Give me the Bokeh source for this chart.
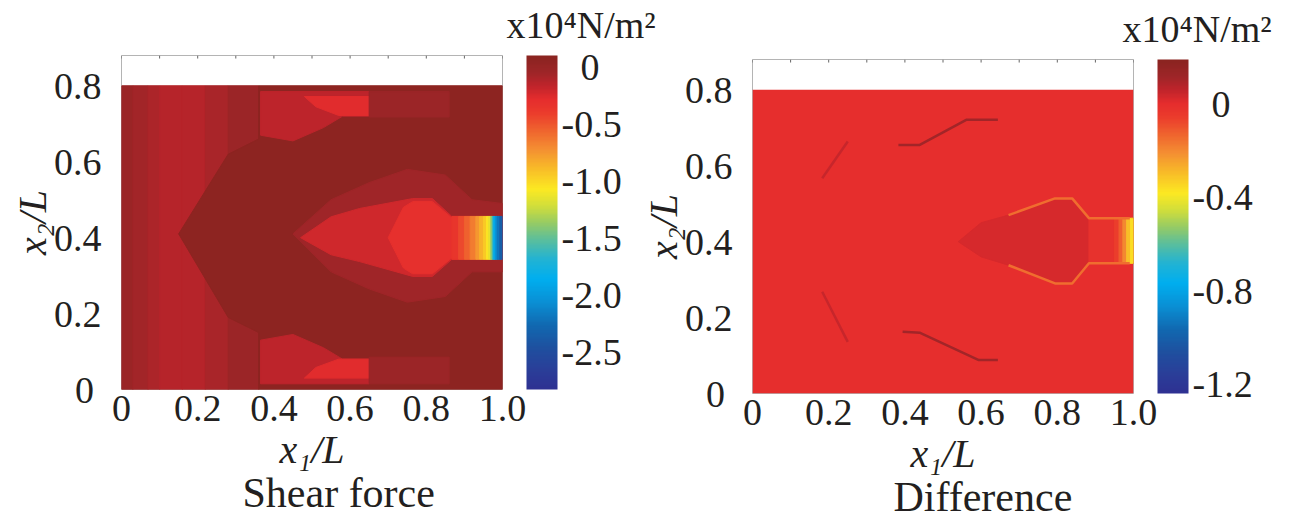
import numpy as np
from bokeh.plotting import figure
from bokeh.models import (LinearColorMapper, ColorBar, FixedTicker, CustomJSTickFormatter,
                          Title, Range1d, ColumnDataSource)
from bokeh.layouts import row
from bokeh.embed import file_html
from bokeh.resources import INLINE

FONT = "Liberation Serif"
INK = "#231f20"

# ---------------- data ----------------
x_ticks = [0, 0.2, 0.4, 0.6, 0.8, 1.0]
y_ticks = [0, 0.2, 0.4, 0.6, 0.8]
top_ticks = [0, 0.1, 0.2, 0.3, 0.4, 0.5, 0.6, 0.7, 0.8, 0.9, 1.0]
shear_cbar_ticks = [-2.5, -2.0, -1.5, -1.0, -0.5, 0]
diff_cbar_ticks = [-1.2, -0.8, -0.4, 0]
shear_low, shear_high = -2.83, 0.10
diff_low, diff_high = -1.24, 0.19
field_top = 0.8
unit_text = "x10\u2074N/m\u00b2"

# Shear force panel
shear_bg = 0.07
shear_strip_x = [0.0, 0.03, 0.07, 0.10, 0.16, 0.22, 0.28, 0.36]
shear_strip_v = [-0.02, -0.07, -0.1, -0.13, -0.13, -0.09, -0.03]
shear_region_v = [0.07, -0.16, -0.16, -0.27, -0.27, -0.03, -0.03, -0.05, -0.22, -0.31]
shear_region_x = [
    [0.36, 0.36, 0.28, 0.15, 0.28, 0.36, 0.36, 1.0, 1.0],
    [0.365, 0.365, 0.45, 0.53, 0.58, 0.65, 0.65],
    [0.365, 0.365, 0.45, 0.53, 0.58, 0.65, 0.65],
    [0.48, 0.65, 0.65, 0.57, 0.51],
    [0.48, 0.65, 0.65, 0.57, 0.51],
    [0.65, 0.86, 0.86, 0.65],
    [0.65, 0.86, 0.86, 0.65],
    [0.45, 0.55, 0.65, 0.75, 0.85, 0.92, 1.0, 1.0, 0.92, 0.85, 0.75, 0.65, 0.55],
    [0.47, 0.55, 0.625, 0.764, 0.816, 0.867, 1.0, 1.0, 0.867, 0.816, 0.764, 0.625, 0.55],
    [0.70, 0.74, 0.764, 0.816, 0.867, 0.867, 0.816, 0.764, 0.74],
]
shear_region_y = [
    [0.8, 0.66, 0.62, 0.41, 0.19, 0.15, 0.0, 0.0, 0.8],
    [0.785, 0.67, 0.655, 0.69, 0.72, 0.72, 0.785],
    [0.015, 0.13, 0.145, 0.11, 0.08, 0.08, 0.015],
    [0.772, 0.772, 0.722, 0.722, 0.745],
    [0.03, 0.03, 0.08, 0.08, 0.058],
    [0.785, 0.785, 0.718, 0.718],
    [0.015, 0.015, 0.085, 0.085],
    [0.41, 0.50, 0.545, 0.58, 0.565, 0.50, 0.49, 0.31, 0.31, 0.245, 0.23, 0.265, 0.31],
    [0.40, 0.455, 0.477, 0.503, 0.503, 0.456, 0.456, 0.343, 0.343, 0.298, 0.298, 0.337, 0.355],
    [0.40, 0.48, 0.495, 0.495, 0.452, 0.347, 0.305, 0.305, 0.32],
]
shear_band_x = [0.867, 0.885, 0.90, 0.915, 0.93, 0.94, 0.95, 0.958, 0.964, 0.969, 0.973,
                0.977, 0.981, 0.986, 0.993, 1.0]
shear_band_v = [-0.35, -0.45, -0.55, -0.65, -0.75, -0.85, -0.95, -1.05, -1.15, -1.35,
                -1.6, -1.85, -2.05, -2.2, -2.35]
shear_band_y = [0.343, 0.456]

# Difference panel
diff_bg = 0.0
diff_region_v = [0.025]
diff_region_x = [[0.54, 0.6, 0.672, 0.794, 0.839, 0.883, 1.0, 1.0, 0.883, 0.839, 0.794, 0.672, 0.6]]
diff_region_y = [[0.40, 0.45, 0.470, 0.514, 0.514, 0.462, 0.462, 0.343, 0.343, 0.290, 0.290, 0.338, 0.36]]
diff_band_x = [0.883, 0.95, 0.962, 0.972, 0.982, 0.992, 1.0]
diff_band_v = [-0.02, -0.06, -0.12, -0.2, -0.3, -0.36]
diff_band_y = [0.343, 0.462]
diff_line_v = [0.11, 0.11, 0.045, 0.045, -0.15, -0.15]
diff_line_x = [
    [0.383, 0.439, 0.561, 0.644],
    [0.394, 0.44, 0.594, 0.644],
    [0.183, 0.25],
    [0.183, 0.25],
    [0.672, 0.794, 0.839, 0.883, 0.99],
    [0.672, 0.794, 0.839, 0.883, 0.99],
]
diff_line_y = [
    [0.655, 0.655, 0.721, 0.721],
    [0.163, 0.16, 0.088, 0.088],
    [0.567, 0.664],
    [0.268, 0.136],
    [0.470, 0.514, 0.514, 0.462, 0.462],
    [0.338, 0.290, 0.290, 0.343, 0.343],
]

# ---------------- colour map (jet-like, as in the colour bars) ----------------
anchors_t = [0.00, 0.05, 0.09, 0.13, 0.17, 0.22, 0.28, 0.34, 0.40, 0.45, 0.50, 0.55,
             0.61, 0.67, 0.74, 0.81, 0.88, 0.94, 1.00]
anchors_c = ["#8a2420", "#9e2528", "#c0242b", "#e52d2d", "#eb3b2c", "#ef612e", "#f48f32",
             "#f8bd28", "#fce922", "#d2de3a", "#98cc63", "#5dbf9a", "#22b3d3", "#00aeef",
             "#0a8fd4", "#1168b0", "#1f4f9f", "#2a3f99", "#2e3192"]


def build_palette(n=256):
    rgb = np.array([[int(c[i:i + 2], 16) for i in (1, 3, 5)] for c in anchors_c], float)
    s = np.linspace(1.0, 0.0, n)  # index 0 = low end = bottom of bar
    out = []
    for si in s:
        r, g, b = (np.interp(si, anchors_t, rgb[:, k]) for k in range(3))
        out.append("#%02x%02x%02x" % (int(round(r)), int(round(g)), int(round(b))))
    return out


PALETTE = build_palette()


def fmt(zero):
    return CustomJSTickFormatter(code="return Math.abs(tick) < 1e-9 ? '%s' : tick.toFixed(1);" % zero)


def quad_source(edges, vals, bottom, top):
    return ColumnDataSource(dict(l=list(edges[:-1]), r=list(edges[1:]),
                                 b=[bottom] * len(vals), t=[top] * len(vals), v=list(vals)))


def make_panel(b_left, b_right, low, high, cbar_ticks, bg, strips, regions,
               band, lines, title, title_offset, unit_offset):
    mapper = LinearColorMapper(palette=PALETTE, low=low, high=high)
    p = figure(frame_width=381, frame_height=334, x_range=Range1d(0, 1), y_range=Range1d(0, 0.88),
               output_backend="svg", toolbar_location=None,
               min_border_left=b_left, min_border_right=b_right,
               min_border_top=0, min_border_bottom=0)
    p.border_fill_color = None
    p.background_fill_color = "white"
    p.outline_line_color = "#b4b4b4"
    p.grid.visible = False
    tr = {"field": "v", "transform": mapper}

    p.quad(left="l", right="r", bottom="b", top="t", source=quad_source([0, 1], [bg], 0, field_top),
           fill_color=tr, line_color=None)
    if strips is not None:
        sx, sv = strips
        p.quad(left="l", right="r", bottom="b", top="t", source=quad_source(sx, sv, 0, field_top),
               fill_color=tr, line_color=tr, line_width=1)
    rv, rx, ry = regions
    p.patches(xs="xs", ys="ys", source=ColumnDataSource(dict(xs=rx, ys=ry, v=rv)),
              fill_color=tr, line_color=tr, line_width=1)
    bx, bv, by = band
    p.quad(left="l", right="r", bottom="b", top="t", source=quad_source(bx, bv, by[0], by[1]),
           fill_color=tr, line_color=tr, line_width=1)
    if lines is not None:
        lv, lx, ly = lines
        p.multi_line(xs="xs", ys="ys", source=ColumnDataSource(dict(xs=lx, ys=ly, v=lv)),
                     line_color=tr, line_width=2.5)

    # small inward ticks along the top edge
    n = len(top_ticks)
    p.segment(x0="x", y0="y0", x1="x", y1="y1", line_color="#666666", line_width=1,
              source=ColumnDataSource(dict(x=top_ticks, y0=[0.88] * n, y1=[0.872] * n)))

    # axes
    p.xaxis.ticker = FixedTicker(ticks=x_ticks)
    p.yaxis.ticker = FixedTicker(ticks=y_ticks)
    p.xaxis.formatter = fmt("0")
    p.yaxis.formatter = fmt("0\u2009")
    for ax in (p.xaxis[0], p.yaxis[0]):
        ax.axis_line_color = None
        ax.major_tick_line_color = None
        ax.minor_tick_line_color = None
        ax.major_label_text_font = FONT
        ax.major_label_text_font_size = "38px"
        ax.major_label_text_color = INK
        ax.axis_label_text_font = FONT
        ax.axis_label_text_font_size = "40px"
        ax.axis_label_text_font_style = "italic"
        ax.axis_label_text_color = INK
    p.xaxis.axis_label = "x\u2081/L"
    p.yaxis.axis_label = "x\u2082/L"
    p.xaxis.major_label_standoff = 0
    p.xaxis.axis_label_standoff = 3
    p.yaxis.major_label_standoff = 14
    p.yaxis.axis_label_standoff = -4

    cb = ColorBar(color_mapper=mapper, ticker=FixedTicker(ticks=cbar_ticks),
                  formatter=fmt("\u00a0\u00a00"),
                  width=31, height=334, location=(24, 0), padding=0, margin=0,
                  label_standoff=4, major_label_text_font=FONT,
                  major_label_text_font_size="38px", major_label_text_color=INK,
                  major_tick_line_color=None, bar_line_color=None,
                  background_fill_color=None, border_line_color=None)
    p.add_layout(cb, "right")

    p.add_layout(Title(text=unit_text, align="left", offset=unit_offset, standoff=20,
                       vertical_align="bottom",
                       text_font=FONT, text_font_size="38px", text_font_style="normal",
                       text_color=INK), "above")
    p.add_layout(Title(text=title, align="left", offset=title_offset, standoff=-10,
                       vertical_align="top",
                       text_font=FONT, text_font_size="42px", text_font_style="normal",
                       text_color=INK), "below")
    return p


p1 = make_panel(121, 165, shear_low, shear_high, shear_cbar_ticks, shear_bg,
                (shear_strip_x, shear_strip_v),
                (shear_region_v, shear_region_x, shear_region_y),
                (shear_band_x, shear_band_v, shear_band_y), None,
                "Shear force", 121, 385)
p2 = make_panel(114, 162, diff_low, diff_high, diff_cbar_ticks, diff_bg, None,
                (diff_region_v, diff_region_x, diff_region_y),
                (diff_band_x, diff_band_v, diff_band_y),
                (diff_line_v, diff_line_x, diff_line_y),
                "Difference", 141, 370)
p1.margin = (-9, 0, 0, 0)
p2.margin = (-5, 0, 0, -30)

layout = row(p1, p2)
open("out.html", "w").write(file_html(layout, INLINE))
